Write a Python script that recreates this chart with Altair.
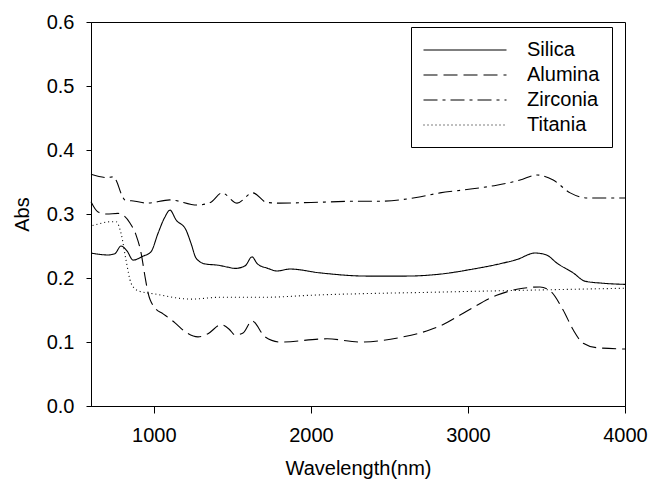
import altair as alt
import pandas as pd

series_order = ["Silica", "Alumina", "Zirconia", "Titania"]

silica_wl = [600, 708, 752, 791, 830, 868, 930, 982, 1027, 1070, 1103, 1141, 1205, 1237, 1269,
             1326, 1409, 1470, 1517, 1581, 1625, 1660, 1727, 1784, 1867, 2058, 2358, 2600, 2822,
             3033, 3200, 3313, 3428, 3500, 3568, 3670, 3746, 3850, 4000]
silica_abs = [0.239, 0.236, 0.238, 0.250, 0.242, 0.228, 0.234, 0.241, 0.270, 0.295, 0.306, 0.291,
              0.275, 0.254, 0.231, 0.222, 0.220, 0.217, 0.215, 0.219, 0.233, 0.222, 0.215, 0.211,
              0.214, 0.208, 0.203, 0.203, 0.206, 0.214, 0.222, 0.229, 0.239, 0.236, 0.223, 0.208,
              0.195, 0.192, 0.190]

alumina_wl = [600, 645, 700, 772, 848, 887, 919, 944, 963, 1008, 1059, 1135, 1199, 1281, 1345,
              1428, 1480, 1517, 1568, 1625, 1708, 1804, 2103, 2313, 2587, 2759, 2822, 2970, 3183,
              3350, 3459, 3523, 3606, 3670, 3734, 3823, 4000]
alumina_abs = [0.319, 0.303, 0.300, 0.301, 0.286, 0.267, 0.239, 0.202, 0.177, 0.153, 0.144, 0.130,
               0.116, 0.108, 0.113, 0.127, 0.120, 0.111, 0.114, 0.133, 0.108, 0.100, 0.105, 0.100,
               0.108, 0.119, 0.125, 0.145, 0.173, 0.184, 0.186, 0.180, 0.150, 0.119, 0.098, 0.091,
               0.089]

zirconia_wl = [600, 700, 740, 765, 790, 816, 880, 957, 1103, 1275, 1360, 1434, 1530, 1630, 1720,
               1804, 2000, 2313, 2440, 2700, 2822, 2970, 3183, 3332, 3440, 3543, 3651, 3759, 4000]
zirconia_abs = [0.362, 0.357, 0.358, 0.350, 0.333, 0.322, 0.320, 0.317, 0.322, 0.314, 0.318, 0.333,
                0.317, 0.333, 0.318, 0.317, 0.318, 0.320, 0.320, 0.327, 0.333, 0.3375, 0.345, 0.353,
                0.361, 0.353, 0.333, 0.325, 0.325]

titania_wl = [610, 625, 727, 760, 791, 823, 855, 900, 1008, 1237, 1428, 1727, 1995, 2822, 3396, 4000]
titania_abs = [0.282, 0.283, 0.288, 0.288, 0.270, 0.228, 0.192, 0.180, 0.175, 0.167, 0.170, 0.170,
               0.173, 0.178, 0.181, 0.184]

x_ticks = [1000, 2000, 3000, 4000]
y_ticks = [0.0, 0.1, 0.2, 0.3, 0.4, 0.5, 0.6]

rows = []
for name, wl, ab in [("Silica", silica_wl, silica_abs), ("Alumina", alumina_wl, alumina_abs),
                     ("Zirconia", zirconia_wl, zirconia_abs), ("Titania", titania_wl, titania_abs)]:
    for i, (w, a) in enumerate(zip(wl, ab)):
        rows.append({"series": name, "wl": w, "abs": a, "order": i})
df = pd.DataFrame(rows)

FONT = "Liberation Sans"
FS = 20
SYM = 20.75  # legend symbol unit; custom path spans 4 units each side -> 83 px line

chart = alt.Chart(df).mark_line(color="black", strokeWidth=1.1, interpolate="monotone").encode(
    x=alt.X("wl:Q", scale=alt.Scale(domain=[600, 4000], nice=False, zero=False),
            axis=alt.Axis(values=x_ticks, format="d", title="Wavelength(nm)", tickSize=7,
                          labelPadding=12, titlePadding=13, labelFlush=False)),
    y=alt.Y("abs:Q", scale=alt.Scale(domain=[0, 0.6], nice=False),
            axis=alt.Axis(values=y_ticks, format=".1f", title="Abs", tickSize=5,
                          labelPadding=12, titlePadding=14, labelFlush=False)),
    strokeDash=alt.StrokeDash(
        "series:N",
        scale=alt.Scale(domain=series_order,
                        range=[[1, 0], [14, 6], [14, 5, 3, 5], [1, 3]]),
        legend=alt.Legend(title=None, orient="none", legendX=320, legendY=5,
                          symbolType="M-4,0H4", symbolSize=SYM * SYM, symbolStrokeWidth=1.1,
                          symbolOffset=31, symbolStrokeColor="black", symbolFillColor="transparent",
                          labelFontSize=FS, labelFont=FONT,
                          labelColor="black", labelOffset=51, rowPadding=4, padding=12,
                          strokeColor="black", fillColor="white"),
    ),
    order="order:Q",
).properties(
    width=534, height=384,
    background="white",
    autosize=alt.AutoSizeParams(type="none"),
    padding={"left": 91, "top": 22, "right": 25, "bottom": 77},
).configure_view(
    stroke="black", strokeWidth=1
).configure_axis(
    grid=False, domainColor="black", tickColor="black", labelColor="black", titleColor="black",
    labelFont=FONT, titleFont=FONT, labelFontSize=FS, titleFontSize=FS, titleFontWeight="normal",
    domainWidth=1, tickWidth=1
)

chart.save("out.html", embed_options={"renderer": "svg", "actions": False})
